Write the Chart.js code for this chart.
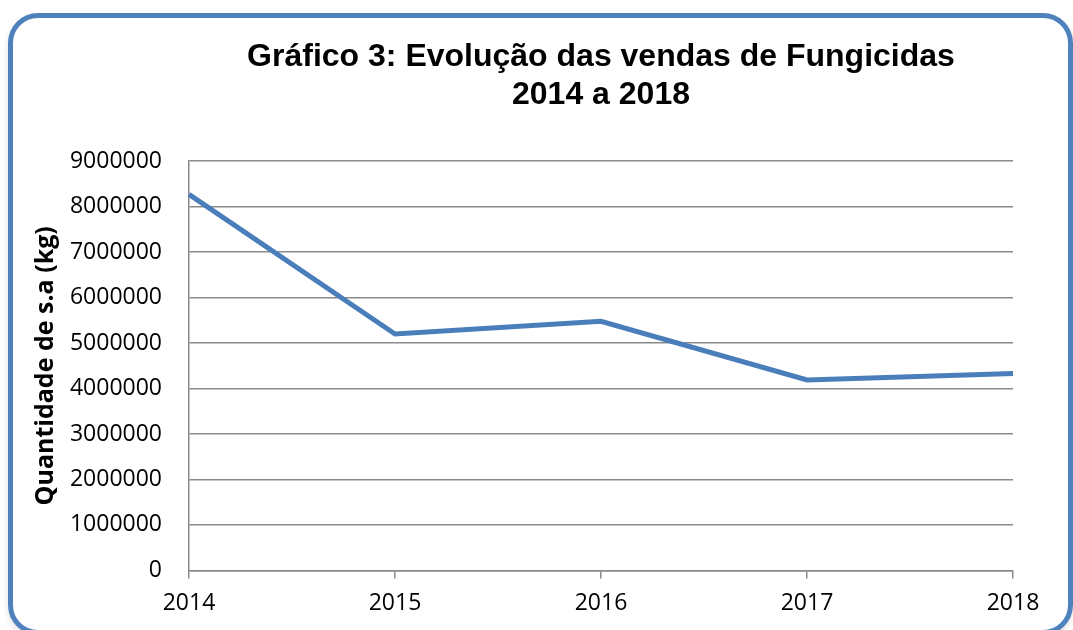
<!DOCTYPE html>
<html><head><meta charset="utf-8">
<script src="https://cdn.jsdelivr.net/npm/chart.js@4/dist/chart.umd.min.js"></script>
<style>
html,body{margin:0;padding:0;background:#fff;overflow:hidden}
#wrap{position:relative;width:1073px;height:630px;overflow:hidden;background:#fff}
#frame{position:absolute;left:8px;top:13px;width:1055px;height:612px;border:5px solid #4F81BD;border-radius:30px;box-shadow:0 3px 6px rgba(0,0,0,0.12)}
canvas{position:absolute;left:0;top:0}
</style></head><body>
<div id="wrap"><div id="frame"></div><canvas id="c" width="1073" height="630"></canvas></div>
<script>
const years = ['2014', '2015', '2016', '2017', '2018'];
const vendas = [8270000, 5200000, 5480000, 4190000, 4330000];
const yTickValues = [0, 1000000, 2000000, 3000000, 4000000, 5000000, 6000000, 7000000, 8000000, 9000000];
const titleLines = ['Gráfico 3: Evolução das vendas de Fungicidas', '2014 a 2018'];
const yAxisTitle = 'Quantidade de s.a (kg)';

const tickFont = { family: '"Open Sans", sans-serif', size: 23 };

new Chart(document.getElementById('c'), {
  type: 'line',
  data: {
    labels: years,
    datasets: [{
      data: vendas,
      borderColor: '#4A7EBB',
      borderWidth: 5,
      pointRadius: 0,
      pointHoverRadius: 0,
      tension: 0,
      fill: false
    }]
  },
  options: {
    responsive: false,
    animation: false,
    devicePixelRatio: 1,
    layout: { padding: { left: 22, right: 60, top: 0, bottom: 2 } },
    plugins: {
      legend: { display: false },
      tooltip: { enabled: false },
      title: {
        display: true,
        fullSize: false,
        text: titleLines,
        color: '#000',
        font: { family: '"Liberation Sans", Arial, sans-serif', size: 32, weight: 'bold', lineHeight: 1.16 },
        padding: { top: 39, bottom: 48 }
      }
    },
    scales: {
      x: {
        offset: false,
        border: { display: true, color: '#8a8a8a', width: 1.5 },
        grid: { display: true, drawOnChartArea: false, drawTicks: true, tickLength: 8, color: '#8a8a8a', lineWidth: 1.5 },
        ticks: { color: '#000', font: tickFont, padding: 11, maxRotation: 0, autoSkip: false }
      },
      y: {
        min: 0,
        max: 9000000,
        border: { display: true, color: '#8a8a8a', width: 1.5 },
        grid: { color: '#8a8a8a', lineWidth: 1.5, drawTicks: false },
        afterBuildTicks: (scale) => { scale.ticks = yTickValues.map(v => ({ value: v })); },
        afterFit: (scale) => { scale.width = 189 - 22; },
        ticks: { color: '#000', font: tickFont, padding: 27, callback: (v) => String(v) },
        title: {
          display: true,
          text: yAxisTitle,
          color: '#000',
          font: { family: '"Open Sans", sans-serif', size: 25, weight: 'bold', lineHeight: 1.2 },
          padding: { top: 9, bottom: 0 }
        }
      }
    }
  }
});
</script>
</body></html>
